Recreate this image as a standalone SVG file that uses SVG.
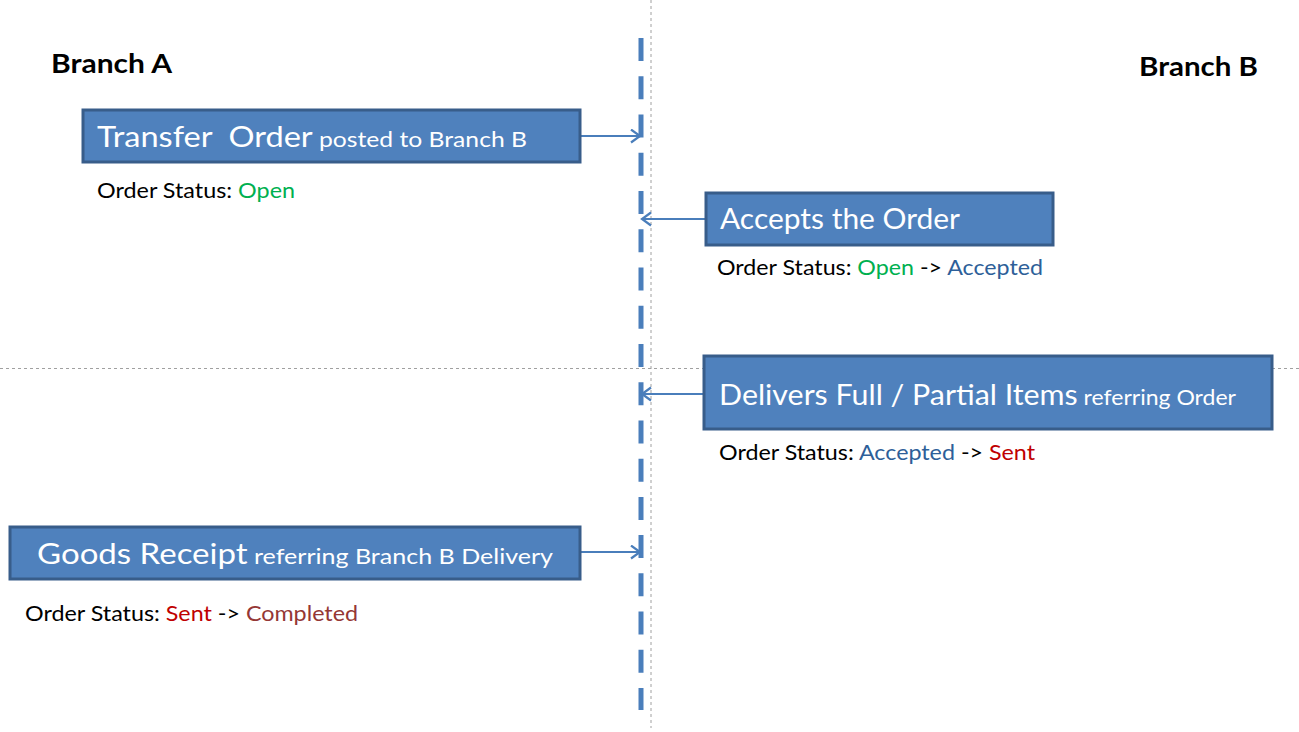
<svg xmlns="http://www.w3.org/2000/svg" width="1299" height="732" viewBox="0 0 1299 732">
<style>
.box{fill:#4F81BD;stroke:#385D8A;stroke-width:3}
.bt{font-family:Lato,"Liberation Sans",sans-serif;fill:#FFFFFF}
.big{font-size:29px}
.sm{font-size:22px}
.st{font-family:Lato,"Liberation Sans",sans-serif;font-size:21px;fill:#000000}
.hd{font-family:Lato,"Liberation Sans",sans-serif;font-size:26px;font-weight:bold;fill:#000000}
.open{fill:#00B050}
.acc{fill:#2E5F99}
.sent{fill:#C00000}
.comp{fill:#953735}
.conn{stroke:#4A7EBB;stroke-width:2;fill:none}
</style>
<defs>
<marker id="arr" markerUnits="userSpaceOnUse" markerWidth="14" markerHeight="16" refX="10" refY="7.5" orient="auto">
<path d="M1,1 L10,7.5 L1,14" fill="none" stroke="#4A7EBB" stroke-width="2.2"/>
</marker>
</defs>
<rect width="1299" height="732" fill="#FFFFFF"/>
<g id="guides">
<line x1="651" y1="0" x2="651" y2="728" stroke="#A0A0A0" stroke-width="1" stroke-dasharray="3,3"/>
<line x1="0" y1="368.5" x2="1299" y2="368.5" stroke="#A0A0A0" stroke-width="1" stroke-dasharray="3,3"/>
</g>
<g id="lifeline">
<line x1="641" y1="38" x2="641" y2="710" stroke="#4A7EBB" stroke-width="5" stroke-dasharray="23,15.24"/>
</g>
<g id="headers">
<text class="hd" x="51" y="73" textLength="121" lengthAdjust="spacingAndGlyphs">Branch A</text>
<text class="hd" x="1139" y="76" textLength="119" lengthAdjust="spacingAndGlyphs">Branch B</text>
</g>
<g id="connectors">
<line class="conn" x1="580" y1="136" x2="640" y2="136" marker-end="url(#arr)"/>
<line class="conn" x1="706" y1="219" x2="642" y2="219" marker-end="url(#arr)"/>
<line class="conn" x1="704" y1="394" x2="642" y2="394" marker-end="url(#arr)"/>
<line class="conn" x1="580" y1="552" x2="640" y2="552" marker-end="url(#arr)"/>
</g>
<g id="node-transfer">
<rect class="box" x="83" y="110" width="497" height="52"/>
<text class="bt" x="97" y="147" textLength="430" lengthAdjust="spacingAndGlyphs"><tspan class="big">Transfer&#160; Order</tspan><tspan class="sm"> posted to Branch B</tspan></text>
<text class="st" x="97" y="198" textLength="198" lengthAdjust="spacingAndGlyphs">Order Status: <tspan class="open">Open</tspan></text>
</g>
<g id="node-accepts">
<rect class="box" x="706" y="193" width="347" height="52"/>
<text class="bt big" x="720" y="229" textLength="240" lengthAdjust="spacingAndGlyphs">Accepts the Order</text>
<text class="st" x="717" y="275" textLength="326" lengthAdjust="spacingAndGlyphs">Order Status: <tspan class="open">Open</tspan> -&gt; <tspan class="acc">Accepted</tspan></text>
</g>
<g id="node-delivers">
<rect class="box" x="704" y="356" width="568" height="73"/>
<text class="bt" x="719" y="405" textLength="517" lengthAdjust="spacingAndGlyphs"><tspan class="big">Delivers Full / Partial Items</tspan><tspan class="sm"> referring Order</tspan></text>
<text class="st" x="719" y="460" textLength="316" lengthAdjust="spacingAndGlyphs">Order Status: <tspan class="acc">Accepted</tspan> -&gt; <tspan class="sent">Sent</tspan></text>
</g>
<g id="node-receipt">
<rect class="box" x="10" y="527" width="570" height="52"/>
<text class="bt" x="37" y="564" textLength="516" lengthAdjust="spacingAndGlyphs"><tspan class="big">Goods Receipt</tspan><tspan class="sm"> referring Branch B Delivery</tspan></text>
<text class="st" x="25" y="621" textLength="333" lengthAdjust="spacingAndGlyphs">Order Status: <tspan class="sent">Sent</tspan> -&gt; <tspan class="comp">Completed</tspan></text>
</g>
</svg>
